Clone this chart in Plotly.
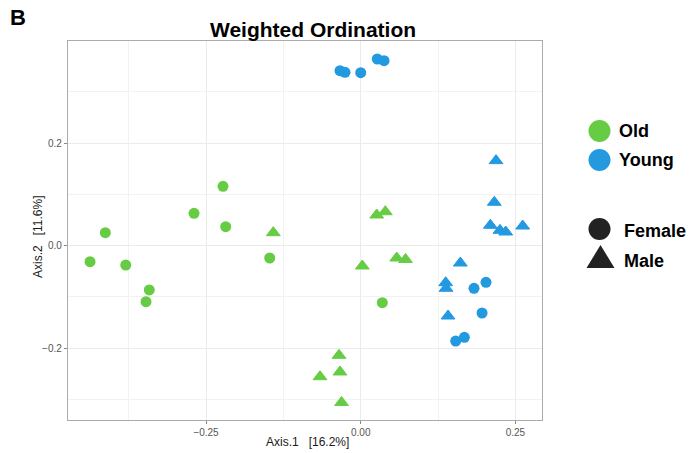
import plotly.graph_objects as go

# ---- data ----
old_female_x = [-0.4375, -0.4128, -0.3798, -0.2694, -0.2226, -0.2182, -0.1471, -0.3417, -0.3470, 0.0349]
old_female_y = [-0.0312, 0.0254, -0.0377, 0.0632, 0.1159, 0.0371, -0.0240, -0.0864, -0.1093, -0.1112]
old_male_x = [-0.1413, 0.0259, 0.0398, 0.0582, 0.0724, 0.0026, -0.0658, -0.0351, -0.0335, -0.0310]
old_male_y = [0.0254, 0.0599, 0.0663, -0.0240, -0.0269, -0.0396, -0.2556, -0.2139, -0.2464, -0.3059]
young_female_x = [-0.0335, -0.0254, 0.0000, 0.0268, 0.0377, 0.1831, 0.2025, 0.1961, 0.1675, 0.1535]
young_female_y = [0.3415, 0.3383, 0.3376, 0.3643, 0.3610, -0.0831, -0.0714, -0.1313, -0.1787, -0.1860]
young_male_x = [0.2187, 0.2159, 0.2095, 0.2251, 0.2344, 0.2618, 0.1610, 0.1374, 0.1379, 0.1411]
young_male_y = [0.1659, 0.0847, 0.0398, 0.0300, 0.0267, 0.0384, -0.0338, -0.0722, -0.0831, -0.1372]

x_ticks = [-0.25, 0.00, 0.25]
x_tick_labels = ["\u22120.25", "0.00", "0.25"]
y_ticks = [-0.2, 0.0, 0.2]
y_tick_labels = ["\u22120.2", "0.0", "0.2"]

GREEN = "#66CC44"
BLUE = "#2399E0"

W, H = 692, 453
L, R, T, B = 68, 542, 41, 420


def px(x):
    return (x - L) / (R - L)


def py(y):
    return (B - y) / (B - T)


fig = go.Figure()


def add(xs, ys, color, symbol):
    if symbol == "circle":
        m = dict(color=color, size=11, symbol="circle", line=dict(width=0))
    else:
        m = dict(color=color, size=12, symbol="triangle-up", line=dict(width=1, color=color))
    fig.add_trace(go.Scatter(x=xs, y=ys, mode="markers", marker=m, showlegend=False,
                             hoverinfo="x+y"))


add(old_female_x, old_female_y, GREEN, "circle")
add(old_male_x, old_male_y, GREEN, "triangle")
add(young_female_x, young_female_y, BLUE, "circle")
add(young_male_x, young_male_y, BLUE, "triangle")

grid = "#EBEBEB"
axis_common = dict(
    showline=True, mirror=True, linecolor="#ABABAB", linewidth=1.3,
    ticks="outside", ticklen=3, tickcolor="#8A8A8A", tickwidth=1,
    showgrid=True, gridcolor=grid, gridwidth=1, zeroline=False,
    tickfont=dict(family="Liberation Sans, Arial, sans-serif", size=10, color="#555555"),
)

fig.update_xaxes(range=[-0.4731, 0.2930], tickmode="array", tickvals=x_ticks, ticktext=x_tick_labels,
                 minor=dict(dtick=0.125, tick0=0, showgrid=True, gridcolor="#F2F2F2", gridwidth=1, ticks=""),
                 **axis_common)
fig.update_yaxes(range=[-0.3401, 0.3994], tickmode="array", tickvals=y_ticks, ticktext=y_tick_labels,
                 minor=dict(dtick=0.1, tick0=0, showgrid=True, gridcolor="#F2F2F2", gridwidth=1, ticks=""),
                 **axis_common)

FONT = "Liberation Sans, Arial, sans-serif"


def ann(text, x, y, size, color="black", xanchor="center", angle=0):
    return dict(text=text, x=px(x), y=py(y), xref="paper", yref="paper", showarrow=False,
                xanchor=xanchor, yanchor="middle", textangle=angle,
                font=dict(family=FONT, size=size, color=color))


annotations = [
    ann("<b>B</b>", 18, 18, 22),
    ann("<b>Weighted Ordination</b>", 313, 30, 21),
    ann("Axis.1\u00a0\u00a0\u00a0[16.2%]", 307, 442, 12, "#1a1a1a"),
    ann("Axis.2\u00a0\u00a0\u00a0[11.6%]", 38, 237, 12, "#1a1a1a", angle=-90),
]

legend_items = [("Old", 131, 617), ("Young", 160, 617), ("Female", 231, 622), ("Male", 261, 622)]
for label, yy, xx in legend_items:
    annotations.append(ann("<b>%s</b>" % label, xx, yy, 18, xanchor="left"))

shapes = []
for color, yy in [(GREEN, 131), (BLUE, 160), ("#222222", 229)]:
    shapes.append(dict(type="circle", xref="paper", yref="paper", xsizemode="pixel", ysizemode="pixel",
                       xanchor=px(599.5), yanchor=py(yy), x0=-11, x1=11, y0=-11, y1=11,
                       fillcolor=color, line=dict(width=0)))
shapes.append(dict(type="path", xref="paper", yref="paper", xsizemode="pixel", ysizemode="pixel",
                   xanchor=px(600.5), yanchor=py(256.5),
                   path="M -14,-11.5 L 14,-11.5 L 0,11.5 Z", fillcolor="#222222", line=dict(width=0)))

fig.update_layout(
    width=W, height=H,
    margin=dict(l=L, r=W - R, t=T, b=H - B),
    plot_bgcolor="white", paper_bgcolor="white",
    annotations=annotations, shapes=shapes,
    showlegend=False,
)

fig.write_html("out.html")
